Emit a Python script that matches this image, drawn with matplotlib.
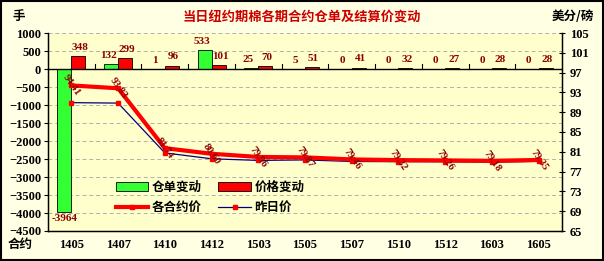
import matplotlib
matplotlib.use("Agg")
import matplotlib.pyplot as plt
from matplotlib.patches import Patch, Rectangle
from matplotlib.lines import Line2D
import numpy as np

categories = ["1405", "1407", "1410", "1412", "1503", "1505", "1507", "1510", "1512", "1603", "1605"]
receipt_change = [-3964, 132, 1, 533, 25, 5, 0, 0, 0, 0, 0]
price_change = [348, 299, 96, 101, 70, 51, 41, 32, 27, 28, 28]
settle_price = [94.41, 93.83, 81.74, 80.60, 79.96, 79.87, 79.46, 79.32, 79.26, 79.18, 79.35]
prev_price = [90.93, 90.84, 80.78, 79.59, 79.26, 79.36, 79.05, 79.00, 78.99, 78.90, 79.07]

title = "当日纽约期棉各期合约仓单及结算价变动"
cjk = ["Noto Sans CJK SC", "DejaVu Sans"]
numfont = "Liberation Serif"
dark_red = "#8B0000"

fig = plt.figure(figsize=(6.04, 2.61), dpi=100)
fig.patch.set_facecolor("#FFFFE4")
fig.patches.append(Rectangle((0.002, 0.004), 0.996, 0.992, transform=fig.transFigure,
                             fill=False, edgecolor="black", linewidth=1.5))

ax = fig.add_axes([48/604, 1-231/261, (562-48)/604, (231-33)/261])
ax.set_facecolor("#FFFFCC")
x = np.arange(len(categories))
w = 0.3

gb = ax.bar(x - w/2, receipt_change, w, color="#33FF33", edgecolor="black", linewidth=0.6, zorder=3)
rb = ax.bar(x + w/2, price_change, w, color="#FF0000", edgecolor="black", linewidth=0.6, zorder=3)

ax.set_ylim(-4500, 1000)
ax.set_yticks(np.arange(-4500, 1001, 500))
ax.set_xlim(-0.5, len(categories) - 0.5)
ax.set_xticks(x)
ax.set_xticklabels(categories)
ax.tick_params(axis="x", length=0, pad=6)
ax.tick_params(axis="y", length=3, pad=2)
for lab in ax.get_xticklabels() + ax.get_yticklabels():
    lab.set_fontfamily(numfont)
    lab.set_fontweight("bold")
    lab.set_fontsize(9)
ax.yaxis.grid(True, linestyle=(0, (4, 3)), color="#B0B0B0", linewidth=0.7, zorder=0)
ax.set_axisbelow(True)
ax.axhline(0, color="black", linewidth=1, zorder=4)
for b in x[:-1] + 0.5:
    ax.plot([b, b], [0, 130], color="black", linewidth=0.8, zorder=4)
ax.spines["top"].set_visible(False)
ax.spines["left"].set_linewidth(1)
ax.spines["bottom"].set_linewidth(1)
ax.spines["right"].set_linewidth(1)

for xi, v in zip(x, receipt_change):
    if v < 0:
        ax.annotate(f"{v}", (xi - w/2, v), xytext=(0, -2), textcoords="offset points",
                    ha="center", va="top", color=dark_red, fontsize=8,
                    fontfamily=numfont, fontweight="bold", zorder=6)
    else:
        ax.annotate(f"{v}", (xi - w/2, v), xytext=(-2, 3), textcoords="offset points",
                    ha="center", va="bottom", color=dark_red, fontsize=8,
                    fontfamily=numfont, fontweight="bold", zorder=6)
for xi, v in zip(x, price_change):
    ax.annotate(f"{v}", (xi + w/2, v), xytext=(1, 3), textcoords="offset points",
                ha="center", va="bottom", color=dark_red, fontsize=8,
                fontfamily=numfont, fontweight="bold", zorder=6)

ax2 = ax.twinx()
ax2.set_ylim(65, 105)
ax2.set_yticks(np.arange(65, 106, 4))
ax2.tick_params(axis="y", direction="inout", length=5, pad=3)
for lab in ax2.get_yticklabels():
    lab.set_fontfamily(numfont)
    lab.set_fontweight("bold")
    lab.set_fontsize(9)
ax2.spines["top"].set_visible(False)

ax2.plot(x, prev_price, color="#000080", linewidth=0.9, marker="s", markersize=2.5,
         markerfacecolor="#FF0000", markeredgecolor="#FF0000", zorder=5)
ax2.plot(x, settle_price, color="#FF0000", linewidth=3, marker="s", markersize=3.5,
         markerfacecolor="#FF0000", markeredgecolor="#FF0000", zorder=6)
for xi, v in zip(x, settle_price):
    ax2.text(xi, v, f"{v:.2f}", rotation=-55, ha="center", va="center",
             color=dark_red, fontsize=7.5, fontfamily=numfont, fontweight="bold",
             rotation_mode="anchor", zorder=7)

handles = [
    Patch(facecolor="#33FF33", edgecolor="black", linewidth=0.6),
    Line2D([], [], color="#FF0000", linewidth=3, marker="s", markersize=3.5),
    Patch(facecolor="#FF0000", edgecolor="black", linewidth=0.6),
    Line2D([], [], color="#000080", linewidth=0.9, marker="s", markersize=2.5,
           markerfacecolor="#FF0000", markeredgecolor="#FF0000"),
]
labels = ["仓单变动", "各合约价", "价格变动", "昨日价"]
leg = ax2.legend(handles, labels, loc="upper left", bbox_to_anchor=(0.11, 0.31), ncol=2,
                 frameon=False, prop={"family": cjk, "weight": "bold", "size": 9},
                 handlelength=2.6, handleheight=0.8, columnspacing=1.3, labelspacing=0.6,
                 handletextpad=0.3)
leg.set_zorder(10)

fig.text(0.5, 1 - 17/261, title, ha="center", va="center", color="#CC0000",
         fontsize=9.5, fontweight="bold", family=cjk)
fig.text(12/604, 1 - 16/261, "手", ha="left", va="center", fontsize=9,
         fontweight="bold", family=cjk)
fig.text(594/604, 1 - 16/261, "美分/磅", ha="right", va="center", fontsize=9,
         fontweight="bold", family=cjk)
fig.text(8/604, 1 - 244/261, "合约", ha="left", va="center", fontsize=9,
         fontweight="bold", family=cjk)

fig.savefig("out.png", dpi=100, facecolor=fig.get_facecolor())
